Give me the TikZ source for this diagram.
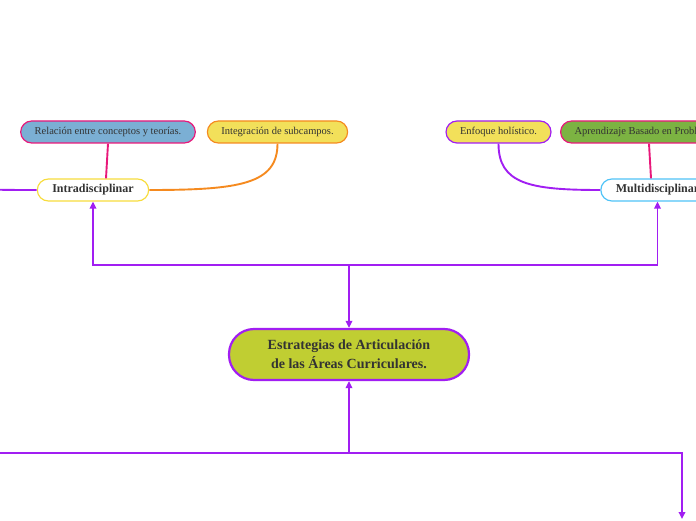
\documentclass[tikz,border=0pt]{standalone}
\usepackage{fontspec}
\setmainfont{Liberation Serif}
\usetikzlibrary{arrows.meta,positioning}
\definecolor{linkpurple}{HTML}{A11EF2}
\definecolor{olive}{HTML}{C0CE32}
\definecolor{textgray}{HTML}{333333}
\definecolor{pinkline}{HTML}{E8187A}
\definecolor{orangeline}{HTML}{F58A1F}
\definecolor{yellowfill}{HTML}{F2E05A}
\definecolor{bluefill}{HTML}{7BAFD4}
\definecolor{greenfill}{HTML}{7CB342}
\definecolor{yellowline}{HTML}{F7DC3C}
\definecolor{blueline}{HTML}{4FC3F7}
\tikzset{
  topic/.style={draw, line width=1.2pt, rounded corners=11pt, minimum height=22pt,
    inner xsep=14pt, text=textgray, font=\fontsize{10.5}{12}\selectfont},
  branch/.style={draw, line width=1.2pt, fill=white, rounded corners=11pt, minimum height=22pt,
    inner xsep=15pt, text=textgray, font=\bfseries\fontsize{12}{14}\selectfont},
  link/.style={draw=linkpurple, line width=1.9pt},
  tip/.style={-{Triangle[length=7pt,width=6.5pt]}}
}
\begin{document}
\begin{tikzpicture}[x=1pt,y=1pt]
  \useasboundingbox (0,0) rectangle (696,520);
  \node[draw=linkpurple, line width=2.2pt, fill=olive, rounded corners=25pt,
    minimum width=240pt, minimum height=51pt, align=center, text=textgray,
    font=\bfseries\fontsize{14}{19}\selectfont] (central) at (349,165.5)
    {Estrategias de Articulación\\de las Áreas Curriculares.};
  \node[branch, draw=yellowline] (intra) at (93,330) {Intradisciplinar};
  \node[branch, draw=blueline] (multi) at (657.5,330) {Multidisciplinar};
  % temas de Intradisciplinar
  \node[topic, draw=linkpurple, fill=yellowfill, minimum width=98pt] (lefttopic) at (-80,388) {};
  \node[topic, draw=pinkline, fill=bluefill] (relacion) at (108,388) {Relación entre conceptos y teorías.};
  \node[topic, draw=orangeline, fill=yellowfill] (integracion) at (277.5,388) {Integración de subcampos.};
  % temas de Multidisciplinar
  \node[topic, draw=linkpurple, fill=yellowfill] (enfoque) at (498.5,388) {Enfoque holístico.};
  \node[topic, draw=pinkline, fill=greenfill, anchor=west] (aprendizaje) at (560,388) {Aprendizaje Basado en Problemas.};
  \draw[link] (lefttopic.south) .. controls (-80,330) and (-40,330) .. (intra.west);
  \draw[draw=pinkline, line width=1.9pt] (relacion.south) -- ([xshift=13pt]intra.north);
  \draw[draw=orangeline, line width=1.9pt] (integracion.south) .. controls (277.5,336) and (240,330) .. (intra.east);
  \draw[link] (enfoque.south) .. controls (498.5,336) and (530,330) .. (multi.west);
  \draw[draw=pinkline, line width=1.9pt] (aprendizaje.south -| 649,0) -- ([xshift=-6.5pt]multi.north);
  % ramas del tema central
  \coordinate (topjoin) at (349,255);
  \coordinate (botjoin) at (349,67);
  \coordinate (offleft) at (-20,67);
  \coordinate (offright) at (682,1);
  \draw[link, tip] (topjoin) -- (central.north);
  \draw[link, tip] (topjoin) -| (intra.south);
  \draw[link, tip] (topjoin) -| (multi.south);
  \draw[link, tip] (botjoin) -- (central.south);
  \draw[link] (botjoin) -- (offleft);
  \draw[link, tip] (botjoin) -| (offright);
\end{tikzpicture}
\end{document}
